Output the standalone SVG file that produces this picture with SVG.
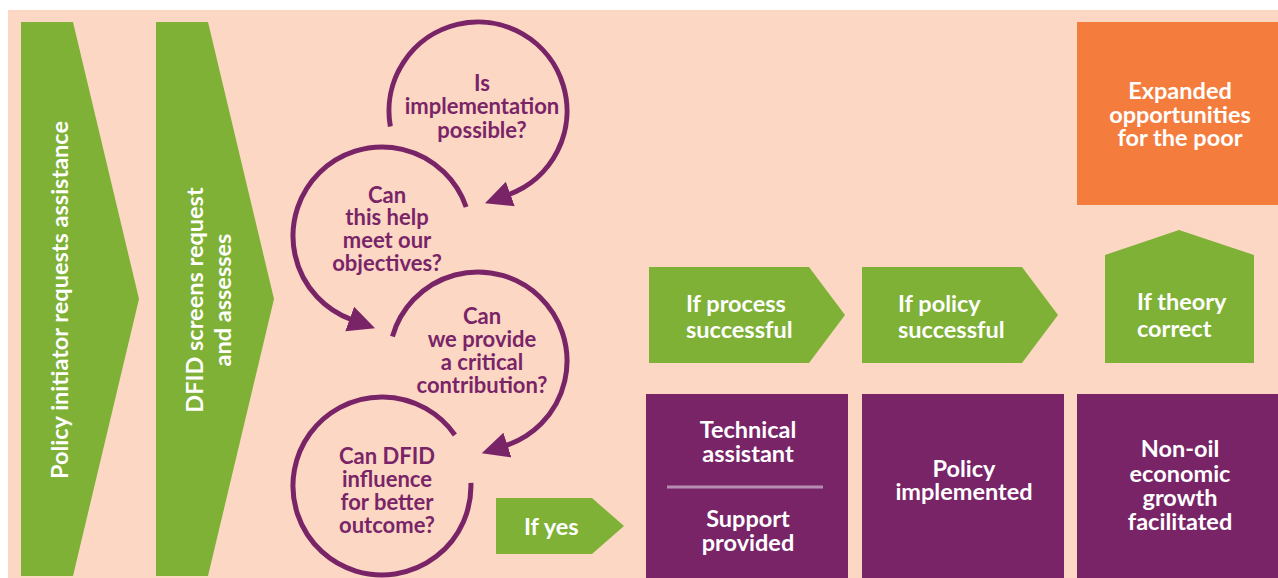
<svg xmlns="http://www.w3.org/2000/svg" width="1278" height="578" viewBox="0 0 1278 578">
  <style>
    .bg { fill: #FCD8C4; }
    .green { fill: #7EB136; }
    .purple { fill: #782467; }
    .orange { fill: #F47D3E; }
    .loop { fill: none; stroke: #7A2468; stroke-width: 5; }
    .t { font-family: Lato, "Liberation Sans", sans-serif; font-weight: 700; fill: #FFFFFF; }
    .q { font-family: Lato, "Liberation Sans", sans-serif; font-weight: 700; fill: #7A2468; font-size: 22px; text-anchor: middle; }
    .box { font-size: 23.5px; text-anchor: middle; }
    .lbl { font-size: 23.5px; }
    .stage { font-size: 23.5px; text-anchor: middle; }
  </style>
  <defs>
    <marker id="head" markerUnits="userSpaceOnUse" markerWidth="30" markerHeight="30" refX="2" refY="13" orient="auto">
      <path d="M0,0 L27,13 L0,26 Z" fill="#7A2468"/>
    </marker>
  </defs>

  <rect width="1278" height="578" fill="#FFFFFF"/>
  <rect class="bg" x="8" y="10" width="1270" height="568"/>

  <!-- stage chevrons -->
  <g id="stage-request">
    <polygon class="green" points="21,22 73,22 139,299 73,576 21,576"/>
    <text class="t stage" transform="translate(68,300) rotate(-90)">Policy initiator requests assistance</text>
  </g>
  <g id="stage-screen">
    <polygon class="green" points="156,22 208,22 274,299 208,576 156,576"/>
    <text class="t stage" transform="translate(203,300) rotate(-90)">DFID screens request</text>
    <text class="t stage" transform="translate(231,300) rotate(-90)">and assesses</text>
  </g>

  <!-- assessment questions -->
  <g id="q-implementation">
    <text class="q" x="482" y="91">Is</text>
    <text class="q" x="482" y="114">implementation</text>
    <text class="q" x="482" y="138">possible?</text>
  </g>
  <g id="q-objectives">
    <text class="q" x="387" y="203">Can</text>
    <text class="q" x="387" y="225">this help</text>
    <text class="q" x="387" y="248">meet our</text>
    <text class="q" x="387" y="271">objectives?</text>
  </g>
  <g id="q-contribution">
    <text class="q" x="482" y="324">Can</text>
    <text class="q" x="482" y="347">we provide</text>
    <text class="q" x="482" y="370">a critical</text>
    <text class="q" x="482" y="393">contribution?</text>
  </g>
  <g id="q-influence">
    <text class="q" x="387" y="464">Can DFID</text>
    <text class="q" x="387" y="487">influence</text>
    <text class="q" x="387" y="510">for better</text>
    <text class="q" x="387" y="533">outcome?</text>
  </g>

  <!-- result pentagons -->
  <g id="if-yes">
    <polygon class="green" points="496,498 592,498 624,526 592,554 496,554"/>
    <text class="t lbl" x="524" y="535">If yes</text>
  </g>
  <g id="if-process">
    <polygon class="green" points="649,267 809,267 845,315 809,363 649,363"/>
    <text class="t lbl" x="686" y="312">If process</text>
    <text class="t lbl" x="686" y="338">successful</text>
  </g>
  <g id="if-policy">
    <polygon class="green" points="862,267 1022,267 1058,315 1022,363 862,363"/>
    <text class="t lbl" x="898" y="312">If policy</text>
    <text class="t lbl" x="898" y="338">successful</text>
  </g>
  <g id="if-theory">
    <polygon class="green" points="1105,255 1179,230 1254,255 1254,363 1105,363"/>
    <text class="t lbl" x="1137" y="310">If theory</text>
    <text class="t lbl" x="1137" y="337">correct</text>
  </g>

  <!-- outcome boxes -->
  <g id="support">
    <rect class="purple" x="646" y="394" width="202" height="184"/>
    <text class="t box" x="748" y="438">Technical</text>
    <text class="t box" x="748" y="462">assistant</text>
    <line x1="667" y1="487" x2="823" y2="487" stroke="#B88DB4" stroke-width="3"/>
    <text class="t box" x="748" y="527">Support</text>
    <text class="t box" x="748" y="551">provided</text>
  </g>
  <g id="policy-implemented">
    <rect class="purple" x="862" y="394" width="202" height="184"/>
    <text class="t box" x="964" y="477">Policy</text>
    <text class="t box" x="964" y="500">implemented</text>
  </g>
  <g id="growth">
    <rect class="purple" x="1077" y="394" width="201" height="184"/>
    <text class="t box" x="1180" y="457">Non-oil</text>
    <text class="t box" x="1180" y="482">economic</text>
    <text class="t box" x="1180" y="506">growth</text>
    <text class="t box" x="1180" y="530">facilitated</text>
  </g>
  <g id="opportunities">
    <rect class="orange" x="1077" y="22" width="201" height="183"/>
    <text class="t box" x="1180" y="99">Expanded</text>
    <text class="t box" x="1180" y="123">opportunities</text>
    <text class="t box" x="1180" y="146">for the poor</text>
  </g>

  <!-- question loops -->
  <g id="connectors">
    <path class="loop" d="M390.35,126.45 A89,89 0 1 1 508.44,194.63" marker-end="url(#head)"/>
    <path class="loop" d="M466.15,207.02 A89,89 0 1 0 351.56,319.63" marker-end="url(#head)"/>
    <path class="loop" d="M392.45,336.47 A89,89 0 1 1 505.5,445.64" marker-end="url(#head)"/>
    <path class="loop" d="M454.9,434.95 A89,89 0 1 0 470.9,482.9"/>
  </g>
</svg>
